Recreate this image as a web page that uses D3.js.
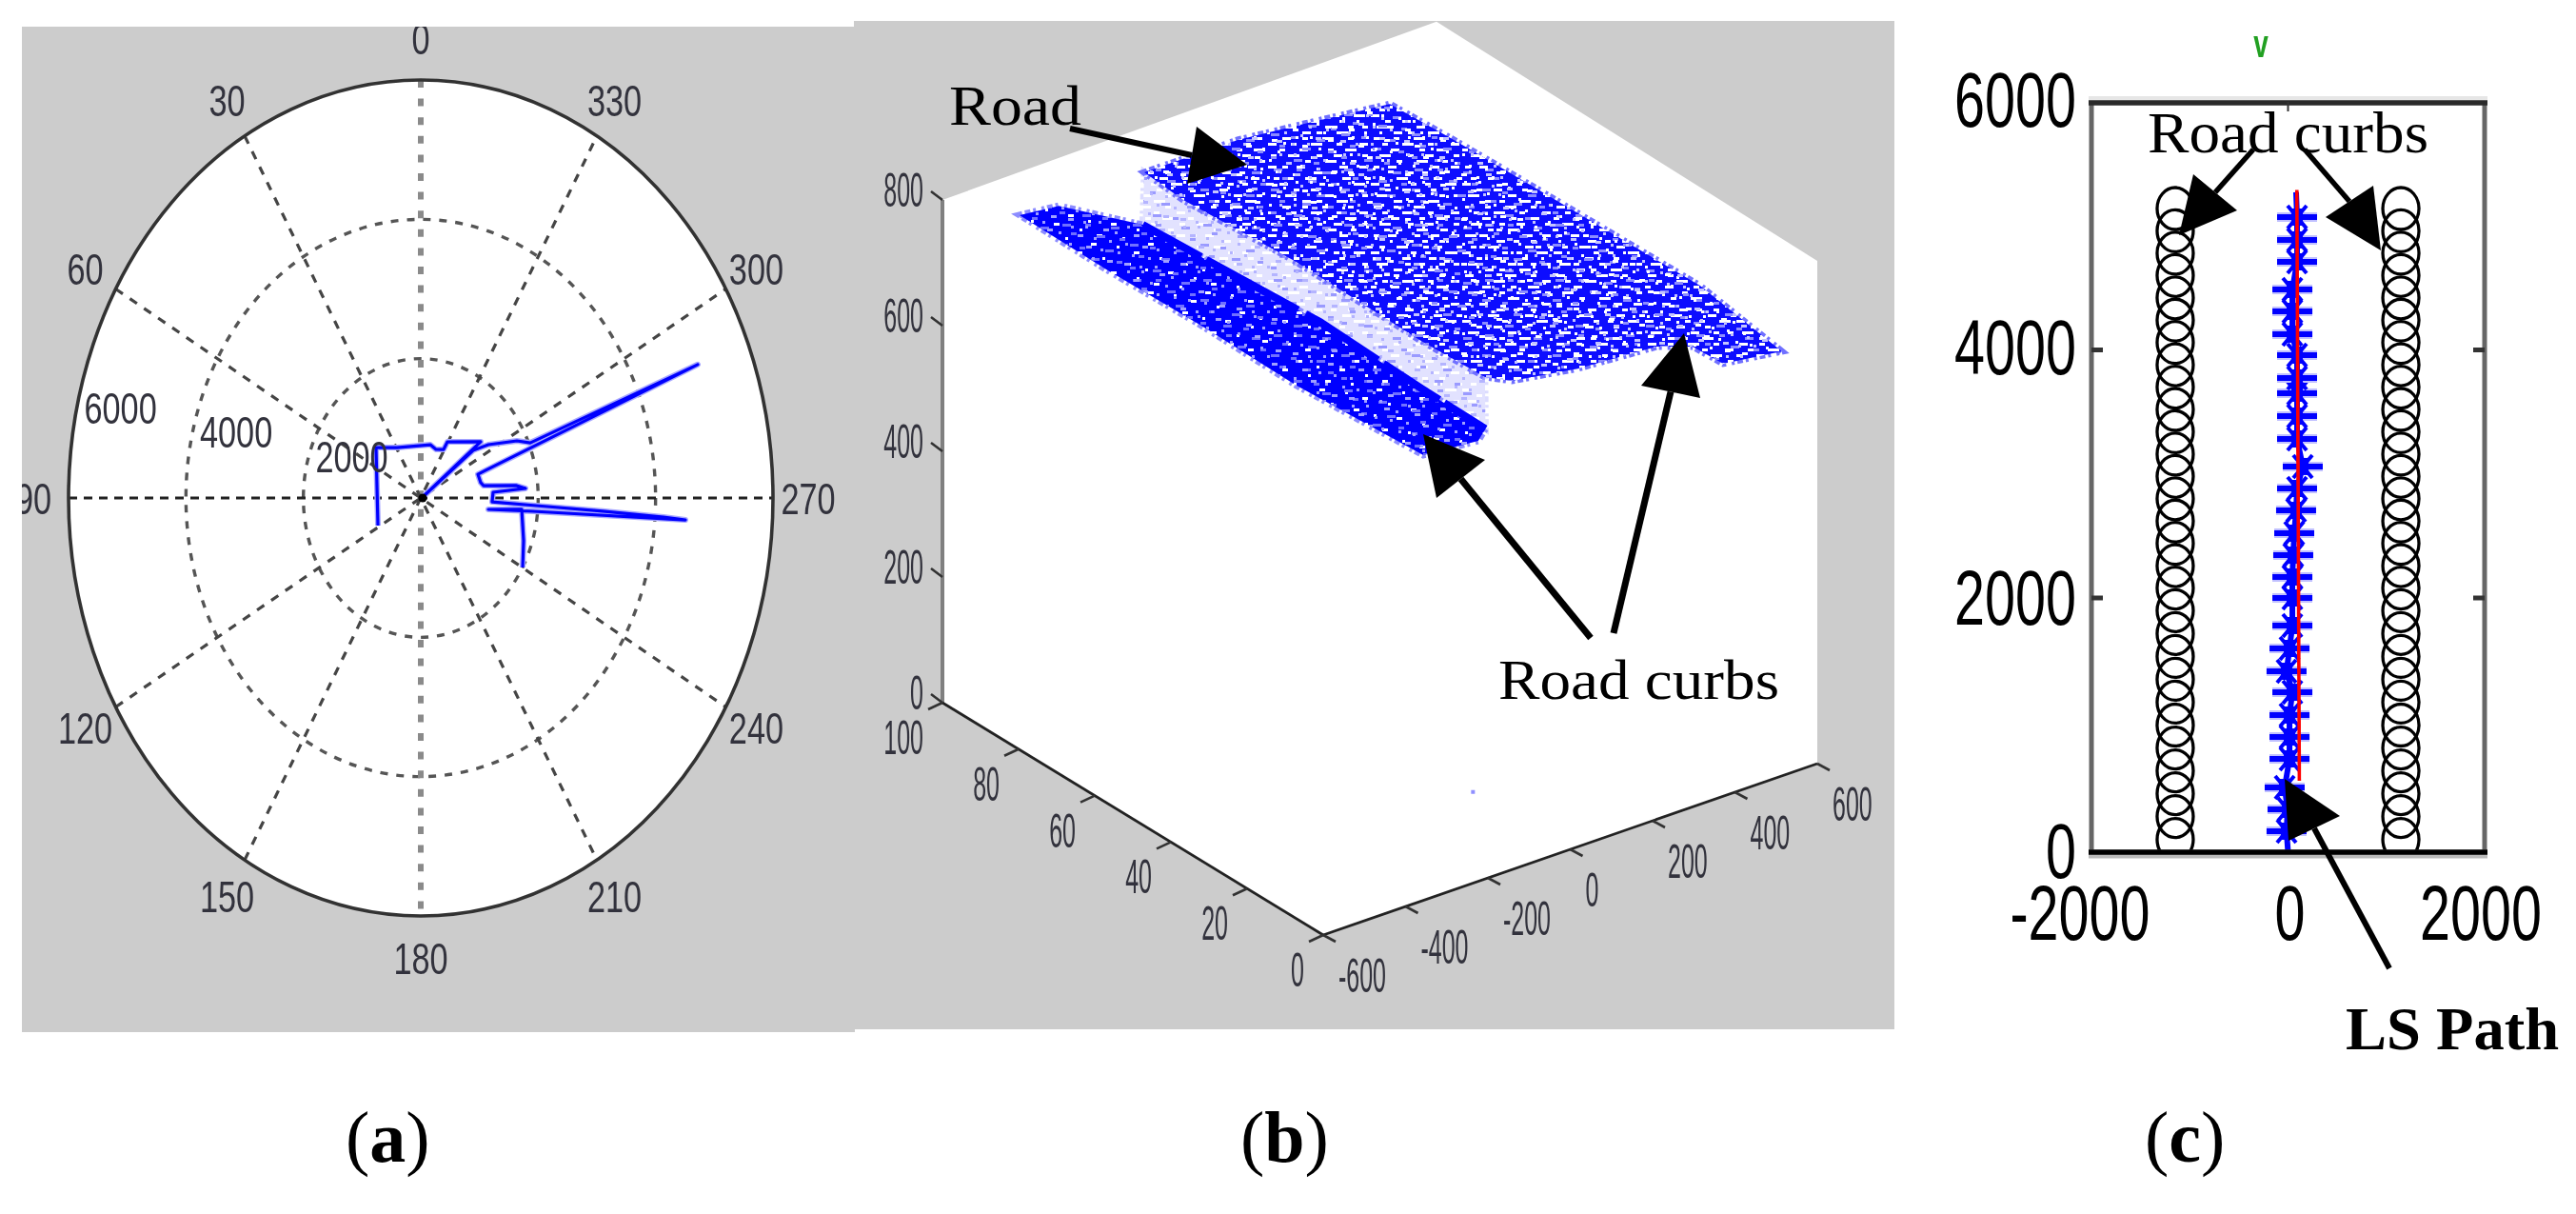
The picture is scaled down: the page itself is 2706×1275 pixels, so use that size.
<!DOCTYPE html>
<html><head><meta charset="utf-8">
<script src="https://cdn.jsdelivr.net/npm/d3@7/dist/d3.min.js"></script>
<style>html,body{margin:0;padding:0;background:#fff}svg{display:block}</style></head>
<body><svg id="chart" width="2706" height="1275" viewBox="0 0 2706 1275"></svg>
<script>
// ---------- panel (a): polar scan ----------
const polarAngles=[0,30,60,90,120,150];
const polarLabels=[0,30,60,90,120,150,180,210,240,270,300,330];
const polarRings=[2000,4000,6000];
const scanTheta=[118.5,46.5,29.3,348,339.6,330.8,330.6,308.3,270,307.5,303.6,296.6,293,292.1,289.3,282.1,279.4,276.3,274.4,273.8,267.4,266.8,266.5,266.2,266,264.3,261.9,264.6,250.7,240.1];
const scanRange=[830,1051,830,782,744,798,925,1302,16,1123,1383,1832,2026,5092,1031,1045,1085,1631,1789,1235,1217,1965,3103,4144,4519,1923,1163,1727,1856,2002];

// ---------- panel (b): 3D point cloud outlines ----------
const zTicks=[0,200,400,600,800];
const yTicks=[0,20,40,60,80,100];
const xTicks=[-600,-400,-200,0,200,400,600];
const roadX=[-58,169,313,496,503,506,515,475,353,349,293,115,-18,-50,-57,-50,-68];
const roadY=[105.6,105.6,103.7,101,86.7,77.1,21.6,-4.2,-2,5.6,9,10.5,13.4,17,33,67,94.3];
const roadZ=[700,700,700,700,700,700,700,700,700,700,700,700,700,700,700,700,700];
const curbX=[-200,-115.5,-34,-6,-18,-21,-62.5,-184,-204,-199,-204];
const curbY=[123,121.8,108.6,65,37,20,17.4,18.7,50,75.8,100];
const curbZ=[600,600,600,600,600,600,600,600,600,600,600];
const wallX=[-58,-68,-50,-57,-50,-21,-18,-6,-34];
const wallY=[105.6,94.3,67,33,17,20,37,65,108.6];
const wallZ=[700,700,700,700,700,600,600,600,600];
const strayPoint=[-5,25,0];

// ---------- panel (c): curbs and path ----------
const xTicksC=[-2000,0,2000];
const yTicksC=[0,2000,4000,6000];
const curbLeftX=-1148, curbRightX=1148;
const curbRows=[100,280,460,640,820,1000,1180,1360,1540,1720,1900,2080,2260,2440,2620,2800,2980,3160,3340,3520,3700,3880,4060,4240,4420,4600,4780,4960,5140];
const pathY=[165,337,509,734,906,1079,1258,1423,1603,1783,2000,2169,2345,2522,2706,2883,3060,3282,3466,3651,3774,3958,4127,4311,4488,4710,4887,5071];
const pathX=[-15,-5,-34,15,15,15,44,-15,15,44,44,44,53,63,82,92,150,92,92,92,92,92,44,44,44,92,92,92];
const lsX=[90,115];
const lsY=[5290,562];

// texture tiles for the point cloud (gaps between scan points)
const gapTile=[[3,0,9],[24,0,6],[45,0,12],[72,0,6],[12,6,6],[33,6,12],[60,6,6],[84,6,9],[0,12,6],[21,12,9],[51,12,6],[69,12,12],[9,18,12],[39,18,6],[57,18,9],[87,18,6],[27,24,6],[48,24,12],[75,24,6],[3,30,6],[18,30,9],[63,30,9],[84,30,9],[36,36,9],[54,36,6],[72,36,6],[9,42,6],[27,42,12],[66,42,9],[90,42,6],[0,48,9],[42,48,6],[57,48,6],[78,48,12],[15,54,6],[33,54,9],[63,54,6],[6,60,12],[48,60,9],[72,60,6],[87,60,6],[24,66,9],[39,66,6],[60,66,12]];
const softTile=[[6,3,9],[30,3,6],[57,6,9],[15,12,6],[42,15,9],[66,18,6],[3,24,9],[24,27,6],[51,30,9],[12,36,6],[36,39,9],[63,42,6],[3,48,6],[27,51,9],[48,54,6]];
const sparseTile=[[6,0,6],[33,3,3],[51,9,6],[18,15,3],[42,21,6],[3,27,3],[27,30,6],[54,36,3],[12,42,6],[39,45,3]];
const dotTile=[[4,2,3],[19,2,3],[38,5,6],[50,8,3],[11,11,6],[28,14,3],[44,17,3],[2,20,3],[20,23,6],[35,26,3],[53,29,3],[9,32,3],[26,35,3],[42,38,6],[1,41,6],[17,44,3],[33,44,3]];

const svg=d3.select("#chart");
const defs=svg.append("defs");
const sans='"Liberation Sans",Arial,sans-serif', serif='"Liberation Serif","Times New Roman",serif';
const GRAY="#cccccc", BLUE="#0000ff";

defs.append("filter").attr("id","soft").attr("x","-5%").attr("y","-5%").attr("width","110%").attr("height","110%")
  .append("feGaussianBlur").attr("stdDeviation",0.75);
defs.append("filter").attr("id","cloudSoft").attr("x","-5%").attr("y","-5%").attr("width","110%").attr("height","110%")
  .append("feGaussianBlur").attr("stdDeviation",0.55);
function tile(id,w,h,bg,fg,list){
  const p=defs.append("pattern").attr("id",id).attr("patternUnits","userSpaceOnUse").attr("width",w).attr("height",h);
  if(bg)p.append("rect").attr("width",w).attr("height",h).attr("fill",bg);
  p.selectAll("rect.s").data(list).join("rect").attr("class","s").attr("x",d=>d[0]).attr("y",d=>d[1]).attr("width",d=>d[2]).attr("height",3).attr("fill",fg);
}
tile("roadGap",96,72,"#0a0aff","#ffffff",gapTile);
tile("roadSoft",74,58,null,"#8c8cff",softTile);
tile("roadDot",59,47,null,"#ffffff",dotTile);
tile("roadDot2",67,53,null,"#c4c4ff",dotTile);
tile("curbGap",60,51,"#0505ff","#ffffff",sparseTile);
tile("curbSoft",74,58,null,"#7070ff",softTile);
tile("curbDot",59,47,null,"#a0a0ff",dotTile);
tile("wallGap",96,72,"#e2e2ff","#ffffff",gapTile);
tile("wallSoft",74,58,null,"#9a9aff",softTile);
tile("wallDot",59,47,null,"#b4b4ff",dotTile);

function cond(g,t,x,y,size,sx,anchor,fill,family,weight){
  return g.append("text").attr("transform",`translate(${x},${y}) scale(${sx},1)`)
    .attr("text-anchor",anchor).attr("font-family",family||sans).attr("font-size",size)
    .attr("font-weight",weight||"normal").attr("fill",fill||"#33333c").text(t);
}
function arrow(g,tail,tip,b1,b2,w){
  const mid=[(b1[0]+b2[0])/2,(b1[1]+b2[1])/2];
  g.append("line").attr("x1",tail[0]).attr("y1",tail[1]).attr("x2",mid[0]).attr("y2",mid[1]).attr("stroke","#000").attr("stroke-width",w);
  g.append("path").attr("d",d3.line()([tip,b1,b2])+"Z").attr("fill","#000");
}

// ===== Panel backgrounds =====
svg.append("rect").attr("width",2706).attr("height",1275).attr("fill","#fff");
svg.append("rect").attr("x",23).attr("y",28).attr("width",875).attr("height",1056).attr("fill",GRAY);
svg.append("rect").attr("x",897).attr("y",22).attr("width",1093).attr("height",1059).attr("fill",GRAY);

// ===== Panel (a) =====
defs.append("clipPath").attr("id","clipA").append("rect").attr("x",23).attr("y",28).attr("width",874).attr("height",1056);
const A=svg.append("g").attr("clip-path","url(#clipA)");
const cx=442,cy=523;
const rX=d3.scaleLinear().domain([0,6000]).range([0,370]);
const rY=d3.scaleLinear().domain([0,6000]).range([0,439]);
const polar=(t,r)=>{const a=t*Math.PI/180;return [cx-Math.sin(a)*rX(r),cy-Math.cos(a)*rY(r)];};
A.append("ellipse").attr("cx",cx).attr("cy",cy).attr("rx",rX(6000)).attr("ry",rY(6000)).attr("fill","#fff");
const gridA=A.append("g").attr("filter","url(#soft)");
gridA.selectAll("ellipse.ring").data(polarRings.slice(0,2)).join("ellipse").attr("class","ring")
  .attr("cx",cx).attr("cy",cy).attr("rx",d=>rX(d)).attr("ry",d=>rY(d)).attr("fill","none")
  .attr("stroke","#555").attr("stroke-width",3.4).attr("stroke-dasharray","8 9");
gridA.selectAll("line.spoke").data(polarAngles).join("line").attr("class","spoke")
  .attr("x1",d=>polar(d,6000)[0]).attr("y1",d=>polar(d,6000)[1])
  .attr("x2",d=>polar(d+180,6000)[0]).attr("y2",d=>polar(d+180,6000)[1])
  .attr("stroke",d=>d===0?"#8a8a8a":(d===90?"#222":"#444"))
  .attr("stroke-width",d=>d===0?6:3.2)
  .attr("stroke-dasharray",d=>d===0?"8 11.6":(d===90?"9 7":"9 9"));
gridA.append("ellipse").attr("cx",cx).attr("cy",cy).attr("rx",rX(6000)).attr("ry",rY(6000)).attr("fill","none").attr("stroke","#333").attr("stroke-width",3.6);
const scanPts=scanTheta.map((t,i)=>polar(t,scanRange[i]));
A.append("path").attr("d",d3.line()(scanPts)).attr("fill","none").attr("stroke","#a8a8ff").attr("stroke-width",6).attr("stroke-linejoin","round");
A.append("path").attr("d",d3.line()(scanPts)).attr("fill","none").attr("stroke",BLUE).attr("stroke-width",3.2).attr("stroke-linejoin","round");
A.append("circle").attr("cx",polar(0,0)[0]+2).attr("cy",polar(0,0)[1]).attr("r",4.5).attr("fill","#000");
const labA=A.append("g").attr("filter","url(#soft)");
polarLabels.forEach(t=>{const p=polar(t,6000*1.1);cond(labA,String(t),p[0],p[1]+17,47,0.73,"middle");});
polarRings.forEach(r=>{const p=polar(80,r);cond(labA,String(r),p[0]+49,p[1]-19+17,47,0.73,"middle");});

// ===== Panel (b) =====
const B=svg.append("g");
const xPx=d3.scaleLinear().domain([-600,600]).range([0,519]);
const xPy=d3.scaleLinear().domain([-600,600]).range([0,-180]);
const yPx=d3.scaleLinear().domain([0,100]).range([0,-400]);
const yPy=d3.scaleLinear().domain([0,100]).range([0,-244]);
const zPy=d3.scaleLinear().domain([0,800]).range([0,-528]);
const proj=(x,y,z)=>[1390+xPx(x)+yPx(y),982+xPy(x)+yPy(y)+zPy(z)];
const boxCorners=[[-600,0,0],[600,0,0],[600,0,800],[600,100,811],[-600,100,800],[-600,100,0]];
B.append("path").attr("d",d3.line()(boxCorners.map(c=>proj(c[0],c[1],c[2])))+"Z").attr("fill","#fff");
// cloud
const cloudG=B.append("g").attr("filter","url(#cloudSoft)");
function cloud(xs,ys,zs,fills,edge){
  const pts=xs.map((x,i)=>proj(x,ys[i],zs[i]));
  const d=d3.line()(pts)+"Z";
  cloudG.append("path").attr("d",d).attr("fill","none").attr("stroke",edge).attr("stroke-width",7).attr("stroke-dasharray","3 3 6 3 3 6");
  fills.forEach(f=>cloudG.append("path").attr("d",d).attr("fill",`url(#${f})`));
}
cloud(wallX,wallY,wallZ,["wallGap","wallSoft","wallDot"],"#dcdcff");
cloud(roadX,roadY,roadZ,["roadGap","roadSoft","roadDot","roadDot2"],"#7070ff");
cloud(curbX,curbY,curbZ,["curbGap","curbSoft","curbDot"],"#8c8cff");
cloudG.append("path").attr("d",d3.line()(curbX.slice(2,6).map((x,i)=>proj(x,curbY[i+2],curbZ[i+2])))).attr("fill","none")
  .attr("stroke",BLUE).attr("stroke-width",8).attr("stroke-dasharray","70 6 110 9 90 7");
const sp=proj(strayPoint[0],strayPoint[1],strayPoint[2]);
B.append("rect").attr("x",sp[0]-2).attr("y",sp[1]-2).attr("width",4).attr("height",4).attr("fill","#9090ff");
// axes
const axB=B.append("g").attr("filter","url(#soft)");
const seg=(a,b,c,w)=>axB.append("line").attr("x1",a[0]).attr("y1",a[1]).attr("x2",b[0]).attr("y2",b[1]).attr("stroke",c).attr("stroke-width",w);
seg(proj(-600,100,0),proj(-600,100,800),"#808080",4);
seg(proj(-600,100,0),proj(-600,0,0),"#222",2.8);
seg(proj(-600,0,0),proj(600,0,0),"#222",2.8);
zTicks.forEach(z=>{const p=proj(-600,100,z);seg(p,[p[0]-12,p[1]-9],"#333",2.6);cond(axB,String(z),p[0]-20,p[1]+7,50,0.5,"end");});
yTicks.forEach(y=>{const p=proj(-600,y,0);seg(p,[p[0]-15,p[1]+7],"#333",2.6);cond(axB,String(y),p[0]-20,p[1]+54,50,0.5,"end");});
xTicks.forEach(x=>{const p=proj(x,0,0);seg(p,[p[0]+13,p[1]+7],"#333",2.6);cond(axB,String(x),p[0]+16,p[1]+60,50,0.5,"start");});
// annotations
arrow(B,[1124,135],[1310,173],[1257,133],[1247,193],6);
arrow(B,[1671,670],[1495,456],[1560,483],[1509,523],7);
arrow(B,[1695,665],[1769,350],[1724,405],[1786,418],7);
B.append("text").attr("x",997).attr("y",131).attr("font-family",serif).attr("font-size",59).attr("textLength",139).attr("lengthAdjust","spacingAndGlyphs").attr("fill","#000").text("Road");
B.append("text").attr("x",1574).attr("y",734).attr("font-family",serif).attr("font-size",60).attr("textLength",295).attr("lengthAdjust","spacingAndGlyphs").attr("fill","#000").text("Road curbs");

// ===== Panel (c) =====
const C=svg.append("g");
const xC=d3.scaleLinear().domain([-2000,2000]).range([2197,2610]);
const yC=d3.scaleLinear().domain([0,2000,6000]).range([895,628,107]);
defs.append("clipPath").attr("id","clipC").append("rect").attr("x",2197).attr("y",107).attr("width",413).attr("height",788);
// curbs
const curbG=C.append("g").attr("clip-path","url(#clipC)");
[curbLeftX,curbRightX].forEach(cxv=>{
  curbG.selectAll(null).data(curbRows).join("ellipse").attr("cx",xC(cxv)).attr("cy",d=>yC(d)).attr("rx",19).attr("ry",22)
    .attr("fill","none").attr("stroke","#000").attr("stroke-width",3.3);
});
// path markers
const pathG=C.append("g");
pathX.forEach((x,i)=>{
  const px=xC(x),py=yC(pathY[i]);
  pathG.append("line").attr("x1",px-21).attr("x2",px+21).attr("y1",py).attr("y2",py).attr("stroke","#c0c0ff").attr("stroke-width",10);
  pathG.append("line").attr("x1",px-21).attr("x2",px+21).attr("y1",py).attr("y2",py).attr("stroke",BLUE).attr("stroke-width",6);
  pathG.append("line").attr("x1",px-10).attr("x2",px+10).attr("y1",py-12).attr("y2",py+12).attr("stroke",BLUE).attr("stroke-width",4);
  pathG.append("line").attr("x1",px+10).attr("x2",px-10).attr("y1",py-12).attr("y2",py+12).attr("stroke",BLUE).attr("stroke-width",4);
  pathG.append("line").attr("x1",px).attr("x2",px).attr("y1",py-9).attr("y2",py+9).attr("stroke",BLUE).attr("stroke-width",12);
});
const pathPts=[[0,0]].concat(pathX.map((x,i)=>[x,pathY[i]]).sort((a,b)=>a[1]-b[1])).concat([[82,5271]]);
pathG.append("path").attr("d",d3.line().x(d=>xC(d[0])).y(d=>yC(d[1]))(pathPts)).attr("fill","none").attr("stroke",BLUE).attr("stroke-width",6);
C.append("path").attr("d",d3.line()(lsX.map((x,i)=>[xC(x),yC(lsY[i])]))).attr("fill","none").attr("stroke","#ff0000").attr("stroke-width",3.6);
// box
const box=C.append("g");
box.append("line").attr("x1",xC(-2000)).attr("x2",xC(-2000)).attr("y1",yC(0)).attr("y2",yC(6000)).attr("stroke","#666").attr("stroke-width",5);
box.append("line").attr("x1",xC(2000)).attr("x2",xC(2000)).attr("y1",yC(0)).attr("y2",yC(6000)).attr("stroke","#666").attr("stroke-width",5);
box.append("line").attr("x1",xC(-2000)-3).attr("x2",xC(2000)+3).attr("y1",yC(6000)-2).attr("y2",yC(6000)-2).attr("stroke","#e6e6e6").attr("stroke-width",8);
box.append("line").attr("x1",xC(-2000)-3).attr("x2",xC(2000)+3).attr("y1",yC(6000)+1).attr("y2",yC(6000)+1).attr("stroke","#2a2a2a").attr("stroke-width",5.5);
box.append("line").attr("x1",xC(-2000)-3).attr("x2",xC(2000)+3).attr("y1",yC(0)+2).attr("y2",yC(0)+2).attr("stroke","#bbb").attr("stroke-width",9);
box.append("line").attr("x1",xC(-2000)-3).attr("x2",xC(2000)+3).attr("y1",yC(0)).attr("y2",yC(0)).attr("stroke","#000").attr("stroke-width",5.5);
yTicksC.filter(v=>v>0&&v<6000).forEach(v=>{
  box.append("line").attr("x1",xC(-2000)).attr("x2",xC(-2000)+12).attr("y1",yC(v)).attr("y2",yC(v)).attr("stroke","#333").attr("stroke-width",5);
  box.append("line").attr("x1",xC(2000)-12).attr("x2",xC(2000)).attr("y1",yC(v)).attr("y2",yC(v)).attr("stroke","#333").attr("stroke-width",5);
});
box.append("line").attr("x1",xC(0)).attr("x2",xC(0)).attr("y1",yC(6000)).attr("y2",yC(6000)+10).attr("stroke","#333").attr("stroke-width",2);
// labels
const labC=C.append("g").attr("filter","url(#soft)");
yTicksC.forEach(v=>cond(labC,String(v),2181,yC(v)+(v===6000?26:(v===0?27:(v===2000?28:25))),81,0.71,"end","#000"));
xTicksC.forEach(v=>cond(labC,String(v),xC(v)+(v<0?-12:(v>0?-4:2)),987,81,0.71,"middle","#000"));
cond(C,"v",2375,60,40,0.7,"middle","#22a022",sans,"bold");
// annotations
arrow(C,[2367,157],[2289,247],[2304,183],[2350,221],5.5);
arrow(C,[2421,157],[2501,263],[2493,195],[2443,228],5.5);
arrow(C,[2510,1017],[2400,818],[2404,883],[2458,857],6);
C.append("text").attr("x",2256).attr("y",160).attr("font-family",serif).attr("font-size",62).attr("textLength",295).attr("lengthAdjust","spacingAndGlyphs").attr("fill","#000").text("Road curbs");
C.append("text").attr("x",2464).attr("y",1102).attr("font-family",serif).attr("font-weight","bold").attr("font-size",64).attr("textLength",224).attr("lengthAdjust","spacingAndGlyphs").attr("fill","#000").text("LS Path");

// ===== Sub-figure captions =====
[["a",363],["b",1303],["c",2253]].forEach(([s,x])=>{
  const t=svg.append("text").attr("x",x).attr("y",1220).attr("font-family",serif).attr("font-size",76).attr("fill","#000");
  t.append("tspan").text("(");
  t.append("tspan").attr("font-weight","bold").text(s);
  t.append("tspan").text(")");
});
</script></body></html>
